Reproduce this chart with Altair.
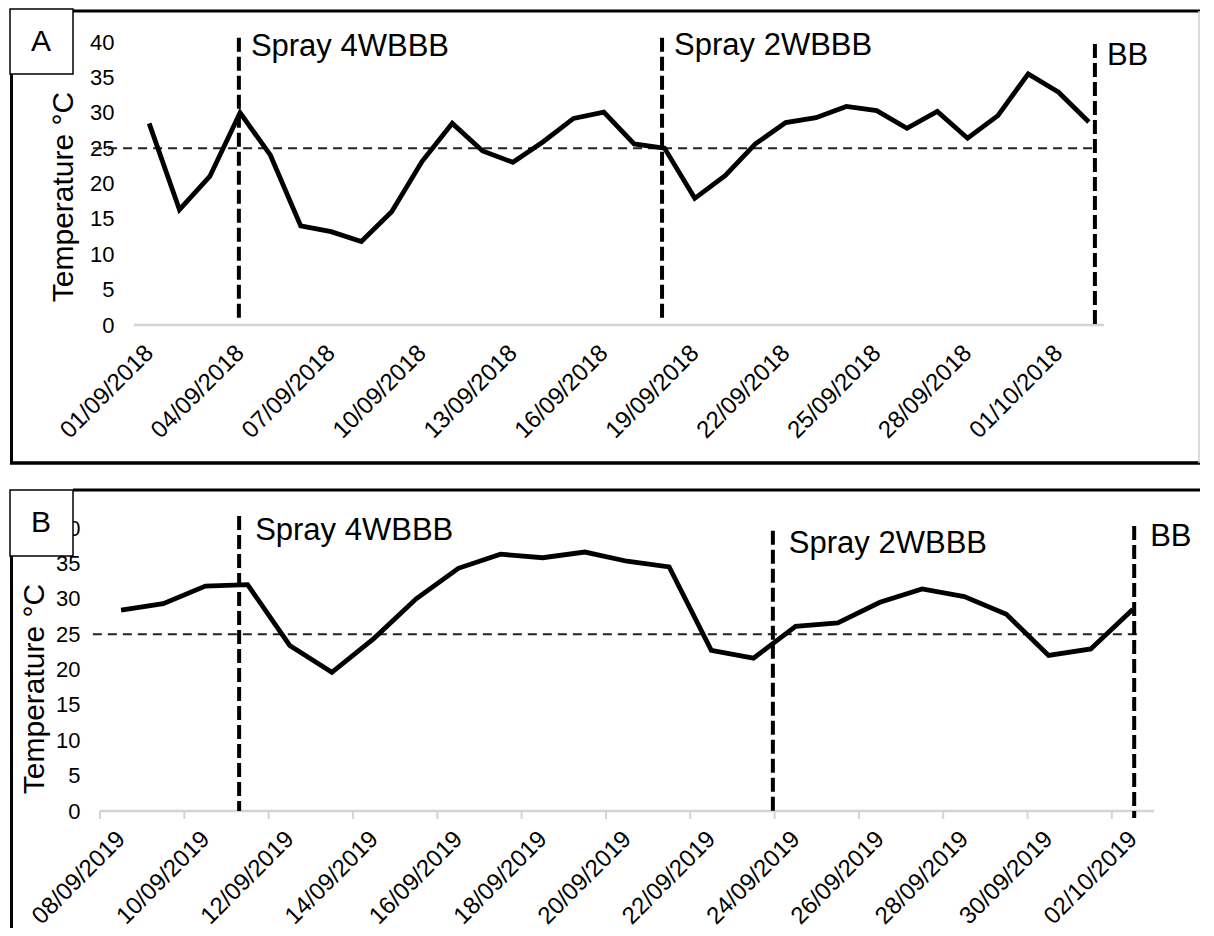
import json
import pandas as pd
import altair as alt

FONT = "Liberation Sans"

# ---------------- data ----------------
# Panel A: daily temperature, 01/09/2018 - 02/10/2018
dates_a = [f"{d:02d}/09/2018" for d in range(1, 31)] + ["01/10/2018", "02/10/2018"]
temp_a = [28.5, 16.3, 21.0, 30.0, 24.0, 14.0, 13.2, 11.8, 16.0, 23.1,
          28.5, 24.6, 23.0, 25.9, 29.2, 30.1, 25.6, 25.0, 17.9, 21.1,
          25.6, 28.6, 29.3, 30.9, 30.3, 27.8, 30.2, 26.4, 29.6, 35.5,
          32.9, 28.7]

# Panel B: daily temperature, 08/09/2019 - 02/10/2019
dates_b = [f"{d:02d}/09/2019" for d in range(8, 31)] + ["01/10/2019", "02/10/2019"]
temp_b = [28.4, 29.3, 31.8, 32.0, 23.4, 19.6, 24.4, 30.0, 34.3, 36.3,
          35.8, 36.6, 35.3, 34.5, 22.7, 21.6, 26.1, 26.6, 29.5, 31.4,
          30.3, 27.8, 22.0, 22.9, 28.5]

event_labels = ["Spray 4WBBB", "Spray 2WBBB", "BB"]
# event day positions (day index from first date)
event_day_a = [2.96, 16.92, 31.2]
event_day_b = [2.80, 15.46, 24.03]
# vertical extent of the event lines (temperature units)
event_top_a = [40.6, 40.6, 39.7]
event_bottom_a = [1.0, 1.0, 0.0]
event_top_b = [41.7, 39.6, 40.3]
event_bottom_b = [0.0, 0.0, -1.0]
event_text_y_a = [39.3, 39.4, 38.0]
event_text_y_b = [39.6, 37.7, 38.7]

threshold = 25
y_ticks = list(range(0, 41, 5))
label_step_a = 3
label_step_b = 2
y_title = "Temperature °C"

one = pd.DataFrame({"k": [0]})


def hline(x1, x2, y, color="black", w=3):
    return alt.Chart(one).mark_rule(color=color, strokeWidth=w).encode(
        x=alt.value(x1), x2=alt.value(x2), y=alt.value(y))


def vline(x, y1, y2, color="black", w=3):
    return alt.Chart(one).mark_rule(color=color, strokeWidth=w).encode(
        x=alt.value(x), y=alt.value(y1), y2=alt.value(y2))


def panel(dates, temps, step, ev_day, ev_top, ev_bot, ev_ty, ev_dx,
          thr_span, x_domain, width, y_offset, title_pos,
          letter, box_y, frame_layers, tick_marks):
    H = 283
    n = len(dates)
    df = pd.DataFrame({"day": list(range(n)), "temp": temps, "date": dates})
    ev = pd.DataFrame({"label": event_labels, "day": ev_day, "top": ev_top,
                       "bottom": ev_bot, "ty": ev_ty})
    xs = alt.Scale(domain=x_domain, nice=False, zero=False)
    ys = alt.Scale(domain=[0, 40], nice=False, zero=False)

    xaxis = alt.Axis(values=list(range(0, n, step)),
                     labelExpr=f"{json.dumps(dates)}[datum.value]",
                     labelAngle=-45, labelAlign="right",
                     labelBaseline="middle",
                     labelPadding=24, labelFontSize=24, labelColor="black",
                     labelFont=FONT, labelOverlap=False, labelFlush=False,
                     ticks=False, domain=False, grid=False, title=None)
    yaxis = alt.Axis(values=y_ticks, labelFontSize=22, labelColor="black",
                     labelFont=FONT, labelPadding=20, ticks=False,
                     domain=False, grid=False, offset=y_offset, title=None)

    layers = list(frame_layers)

    # threshold dashed line at 25 degC
    layers.append(alt.Chart(one).mark_rule(
        color="#222222", strokeWidth=2, strokeDash=[9, 6]).encode(
        x=alt.X(datum=thr_span[0], scale=xs, axis=xaxis),
        x2=alt.X2(datum=thr_span[1]),
        y=alt.Y(datum=threshold, scale=ys, axis=yaxis)))

    # axis baseline (light grey)
    layers.append(alt.Chart(one).mark_rule(
        color="#d4d4d4", strokeWidth=2.5).encode(
        x=alt.X(datum=-0.5, scale=xs, axis=xaxis),
        x2=alt.X2(datum=n - 0.5),
        y=alt.Y(datum=0, scale=ys, axis=yaxis)))

    if tick_marks:
        tk = pd.DataFrame({"day": [i - 0.5 for i in range(0, n, step)]})
        layers.append(alt.Chart(tk).mark_rule(
            color="#d4d4d4", strokeWidth=2).encode(
            x=alt.X("day:Q", scale=xs, axis=xaxis),
            y=alt.value(H), y2=alt.value(H + 8)))

    # temperature line
    layers.append(alt.Chart(df).mark_line(
        color="black", strokeWidth=4.8, strokeJoin="miter").encode(
        x=alt.X("day:Q", scale=xs, axis=xaxis),
        y=alt.Y("temp:Q", scale=ys, axis=yaxis)))

    # event lines
    layers.append(alt.Chart(ev).mark_rule(
        color="black", strokeWidth=4, strokeDash=[14, 5]).encode(
        x=alt.X("day:Q", scale=xs, axis=xaxis),
        y=alt.Y("top:Q", scale=ys, axis=yaxis),
        y2="bottom:Q"))

    # event labels
    layers.append(alt.Chart(ev).mark_text(
        align="left", baseline="middle", fontSize=31, font=FONT,
        color="black", dx=ev_dx).encode(
        x=alt.X("day:Q", scale=xs, axis=xaxis),
        y=alt.Y("ty:Q", scale=ys, axis=yaxis),
        text="label:N"))

    # y-axis title
    layers.append(alt.Chart(one).mark_text(
        angle=270, fontSize=30, font=FONT, color="black", align="center",
        baseline="middle").encode(
        x=alt.value(title_pos[0]), y=alt.value(title_pos[1]),
        text=alt.value(y_title)))

    # panel letter box
    layers.append(alt.Chart(one).mark_rect(
        fill="white", stroke="black", strokeWidth=1.5).encode(
        x=alt.value(-90), x2=alt.value(-27),
        y=alt.value(box_y[0]), y2=alt.value(box_y[1])))
    layers.append(alt.Chart(one).mark_text(
        fontSize=30, font=FONT, color="black", align="center",
        baseline="middle").encode(
        x=alt.value(-59), y=alt.value((box_y[0] + box_y[1]) / 2),
        text=alt.value(letter)))

    return alt.layer(*layers).properties(width=width, height=H)


RIGHT = 1100

frames_a = [
    hline(-27, RIGHT, -31),
    vline(-88.5, 32, 421),
    hline(-90, RIGHT, 421, w=3.5),
    vline(RIGHT - 1, -31, 421, color="#cfcfcf", w=1.5),
]
frames_b = [
    hline(-27, RIGHT, -38),
    vline(-88.5, 28, 400),
]

panel_a = panel(dates_a, temp_a, label_step_a, event_day_a, event_top_a,
                event_bottom_a, event_text_y_a, 12, [-1.85, 31.3],
                [-1.6217, 31.5], 1004, -34, (-36, 155), "A", [-33, 32],
                frames_a, False)
panel_b = panel(dates_b, temp_b, label_step_b, event_day_b, event_top_b,
                event_bottom_b, event_text_y_b, 16, [-0.67, 24.12],
                [-0.5, 24.5], 1054, 0, (-65, 161), "B", [-38, 28],
                frames_b, True)

chart = alt.vconcat(panel_a, panel_b, spacing=203, bounds="flush").properties(
    padding=0, background="white"
).configure_view(stroke=None).configure_axis(grid=False)

chart.save("out.html", embed_options={"renderer": "svg", "actions": False})
